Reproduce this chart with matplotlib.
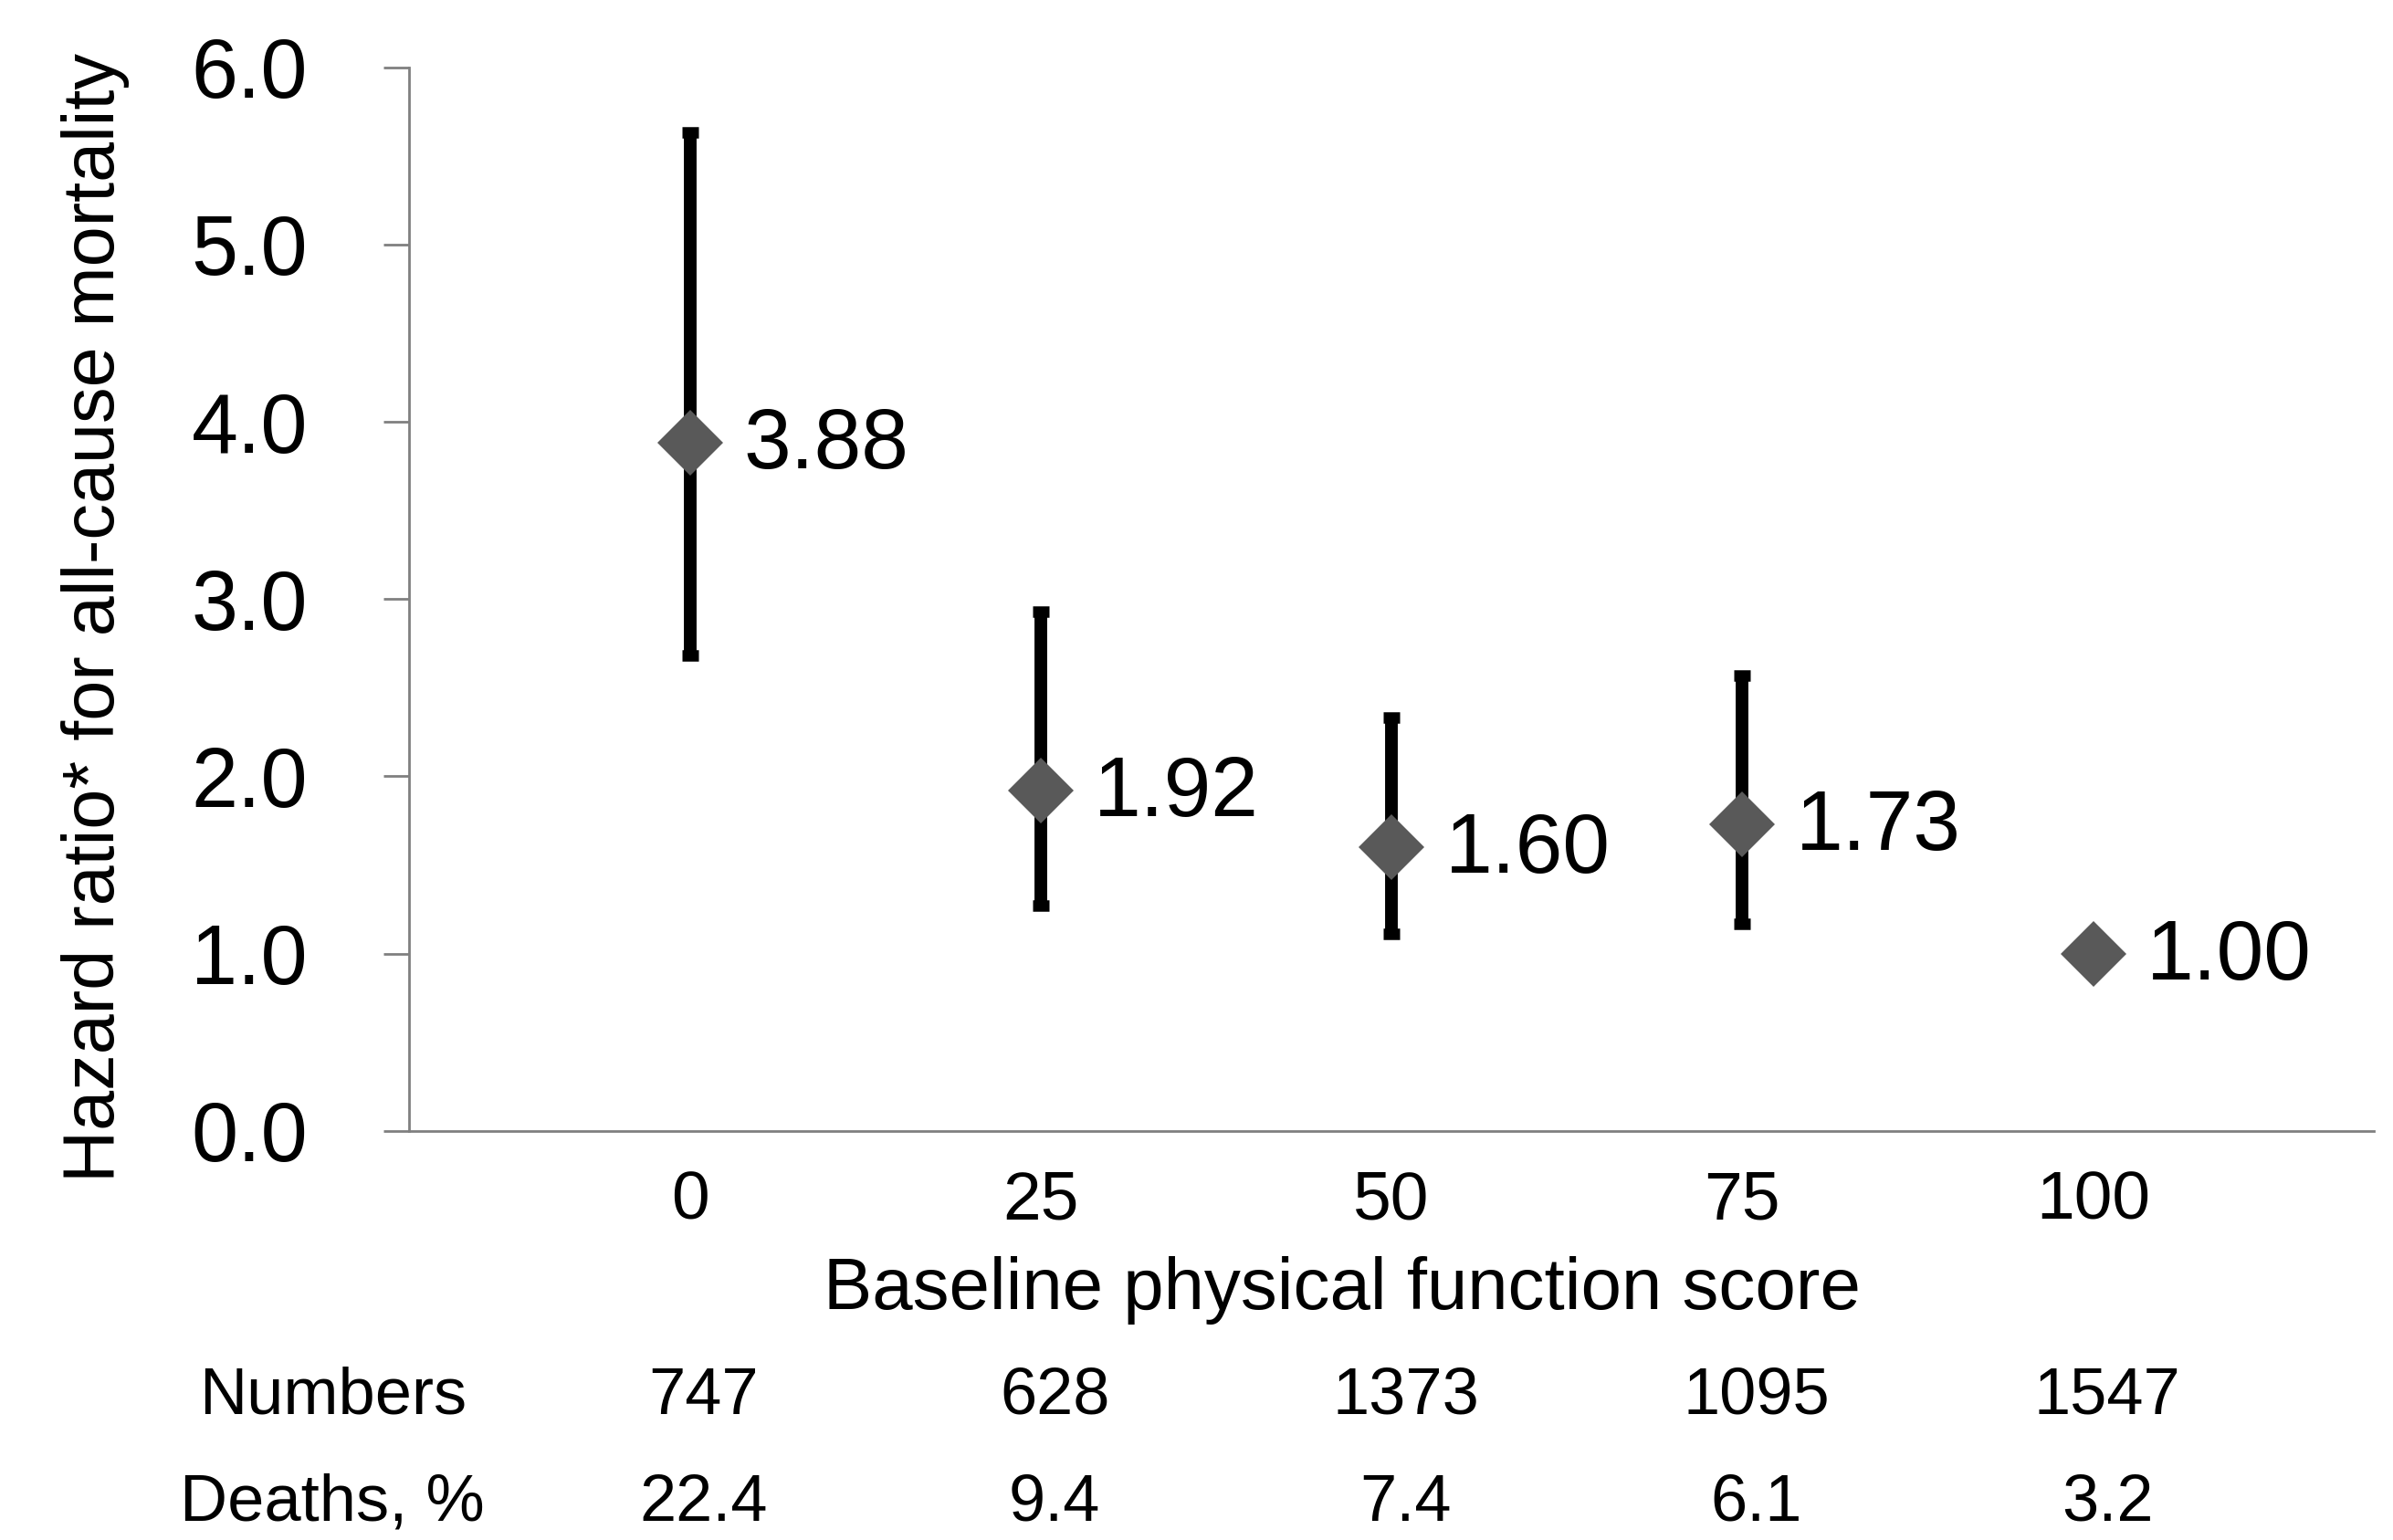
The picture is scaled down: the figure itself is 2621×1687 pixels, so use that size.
"""Hazard ratio for all-cause mortality by baseline physical function score."""
import matplotlib
matplotlib.use("Agg")
import matplotlib.pyplot as plt
import matplotlib.transforms as mtransforms

plt.rcParams["font.family"] = ["Liberation Sans", "DejaVu Sans"]

scores = [0, 25, 50, 75, 100]
hazard = [3.88, 1.92, 1.60, 1.73, 1.00]
ci_low = [2.68, 1.27, 1.11, 1.17, 1.00]
ci_high = [5.63, 2.93, 2.33, 2.57, 1.00]
hr_labels = ["3.88", "1.92", "1.60", "1.73", "1.00"]
numbers = ["747", "628", "1373", "1095", "1547"]
deaths_pct = ["22.4", "9.4", "7.4", "6.1", "3.2"]

GRAY = "#808080"
DPI = 100

fig = plt.figure(figsize=(2621 / DPI, 1687 / DPI), dpi=DPI)
ax = fig.add_axes([0.171, 0.2656, 0.821, 0.6908])

err_lo = [h - lo for h, lo in zip(hazard, ci_low)]
err_hi = [hi - h for h, hi in zip(hazard, ci_high)]
# error bars only where there is an interval (reference group has none)
for x, h, lo, hi in zip(scores, hazard, err_lo, err_hi):
    if lo > 0 or hi > 0:
        ax.errorbar(x, h, yerr=[[lo], [hi]], fmt="none", ecolor="black",
                    elinewidth=10, capsize=6.5, capthick=9, zorder=2)
ax.plot(scores, hazard, linestyle="none", marker="D", markersize=37,
        color="#595959", markeredgewidth=0, zorder=3)

for x, h, lab in zip(scores, hazard, hr_labels):
    ax.annotate(lab, (x, h), xytext=(42, -3), textcoords="offset points",
                ha="left", va="center", fontsize=67, color="black")

ax.set_xlim(-20, 120)
ax.set_ylim(0, 6)
ax.set_yticks([0, 1, 2, 3, 4, 5, 6])
ax.set_yticklabels([f"{v:.1f}" for v in range(7)])
ax.set_xticks(scores)
ax.set_xticklabels([str(s) for s in scores])

for side in ("top", "right"):
    ax.spines[side].set_visible(False)
for side in ("left", "bottom"):
    ax.spines[side].set_color(GRAY)
    ax.spines[side].set_linewidth(2)

ax.tick_params(axis="y", direction="out", length=20, width=2, color=GRAY,
               pad=60, labelsize=66)
ax.tick_params(axis="x", length=0, pad=31, labelsize=54)

fig.text(0.561, 0.1624, "Baseline physical function score", ha="center",
         va="center", fontsize=57.5)
fig.text(0.0397, 0.599, "Hazard ratio* for all-cause mortality", ha="center",
         va="center", rotation=90, fontsize=57)

# table rows under the axis, columns aligned with the data x positions
row_tr = mtransforms.blended_transform_factory(ax.transData, fig.transFigure)
fig.text(0.139, 0.093, "Numbers", ha="center", va="center", fontsize=52)
fig.text(0.139, 0.0237, "Deaths, %", ha="center", va="center", fontsize=52)
for x, n, d in zip(scores, numbers, deaths_pct):
    ax.text(x + 1, 0.093, n, transform=row_tr, ha="center", va="center",
            fontsize=52, clip_on=False)
    ax.text(x + 1, 0.0237, d, transform=row_tr, ha="center", va="center",
            fontsize=52, clip_on=False)

fig.savefig("out.png", dpi=DPI)
